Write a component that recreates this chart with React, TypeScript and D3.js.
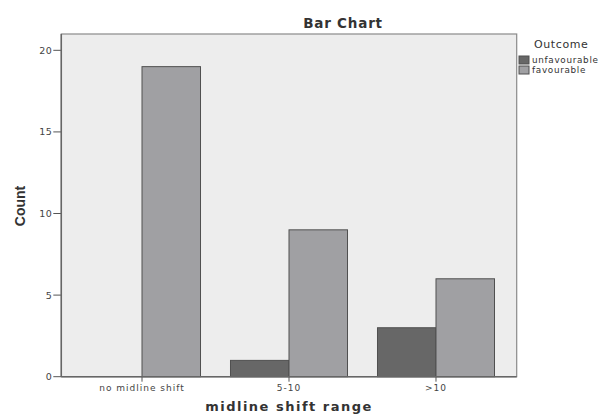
import React from "react";
import * as d3 from "d3";

const categories = ["no midline shift", "5-10", ">10"];
const series = ["unfavourable", "favourable"];
const unfavourable = [0, 1, 3];
const favourable = [19, 9, 6];
const yTicks = [0, 5, 10, 15, 20];
const colors = ["#676767", "#a0a0a3"];

export default function App() {
  const W = 612, H = 415;
  const left = 61.3, right = 516.7, top = 34, bottom = 376.7;
  const x = d3.scaleBand<string>().domain(categories).range([left, right]).paddingInner(0.204).paddingOuter(0.151);
  const sub = d3.scaleBand<string>().domain(series).range([0, x.bandwidth()]);
  const y = d3.scaleLinear().domain([0, 21]).range([bottom, top]);
  const vals = [unfavourable, favourable];
  const font = "DejaVu Sans, Verdana, sans-serif";
  return (
    <svg width={W} height={H} style={{ position: "absolute", left: 0, top: 0 }} fontFamily={font}>
      <rect x={0} y={0} width={W} height={H} fill="#fff" />
      <rect x={left} y={top} width={right - left} height={bottom - top} fill="#ededed" stroke="#8a8a8a" strokeWidth={1.2} />
      {categories.map((c, i) =>
        series.map((s, j) => {
          const v = vals[j][i];
          if (v === 0) return null;
          const bx = (x(c) as number) + (sub(s) as number);
          return (
            <rect key={c + s} x={bx} y={y(v)} width={sub.bandwidth()} height={y(0) - y(v)}
              fill={colors[j]} stroke="#505050" strokeWidth={1} />
          );
        })
      )}
      {yTicks.map((t) => (
        <g key={t}>
          <line x1={left - 8} x2={left} y1={y(t)} y2={y(t)} stroke="#555" strokeWidth={1} />
          <text x={left - 9} y={y(t) + 3.5} fontSize={9.5} textAnchor="end" fill="#444" letterSpacing={0.5}>{t}</text>
        </g>
      ))}
      {categories.map((c) => {
        const cx = (x(c) as number) + x.bandwidth() / 2;
        return (
          <g key={c}>
            <line x1={cx} x2={cx} y1={bottom} y2={bottom + 5} stroke="#555" strokeWidth={1} />
            <text x={cx} y={bottom + 14} fontSize={9} textAnchor="middle" fill="#444" letterSpacing={1}>{c}</text>
          </g>
        );
      })}
      <line x1={left} x2={left} y1={top} y2={bottom} stroke="#666" strokeWidth={1.5} />
      <line x1={left} x2={right} y1={bottom} y2={bottom} stroke="#666" strokeWidth={1.5} />
      <text x={343} y={28} fontSize={13.5} fontWeight="bold" textAnchor="middle" fill="#333" letterSpacing={0.8}>Bar Chart</text>
      <text x={289} y={411} fontSize={13} fontWeight="bold" textAnchor="middle" fill="#333" letterSpacing={1.5}>midline shift range</text>
      <text transform={`translate(25,206) rotate(-90)`} fontSize={14} fontWeight="bold" textAnchor="middle" fill="#333" fontFamily="Liberation Sans Narrow, Liberation Sans, sans-serif">Count</text>
      <text x={534} y={48} fontSize={11} fill="#333" letterSpacing={0.6}>Outcome</text>
      {series.map((s, j) => (
        <g key={s}>
          <rect x={519} y={56 + j * 10} width={10} height={8} fill={colors[j]} stroke="#505050" strokeWidth={1} />
          <text x={532} y={63 + j * 10} fontSize={8.8} fill="#333" letterSpacing={0.7}>{s}</text>
        </g>
      ))}
    </svg>
  );
}
